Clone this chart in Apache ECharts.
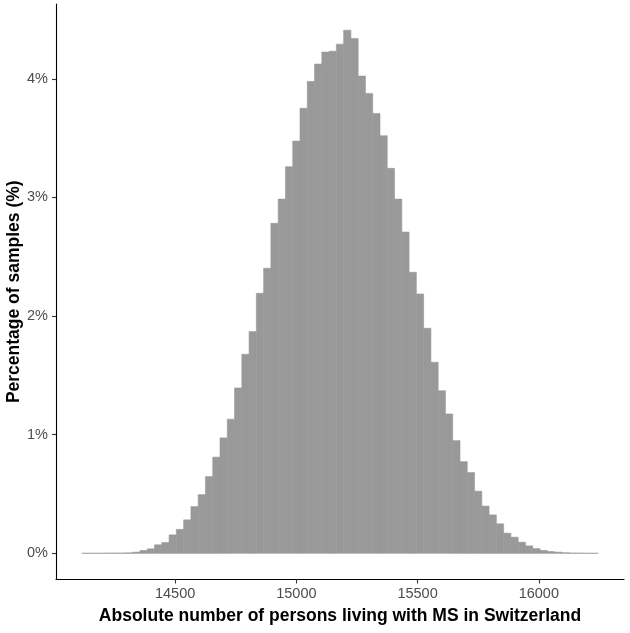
<!DOCTYPE html>
<html>
<head>
<meta charset="utf-8">
<script src="https://cdn.jsdelivr.net/npm/echarts@6/dist/echarts.min.js"></script>
<style>
html,body{margin:0;padding:0;background:#fff;}
#chart{width:630px;height:633px;}
</style>
</head>
<body>
<div id="chart"></div>
<script>
// Histogram bins (bin width 30), centres of each bin
const binCenters = [
  14130,14160,14190,14220,14250,14280,14310,14340,14370,14400,
  14430,14460,14490,14520,14550,14580,14610,14640,14670,14700,
  14730,14760,14790,14820,14850,14880,14910,14940,14970,15000,
  15030,15060,15090,15120,15150,15180,15210,15240,15270,15300,
  15330,15360,15390,15420,15450,15480,15510,15540,15570,15600,
  15630,15660,15690,15720,15750,15780,15810,15840,15870,15900,
  15930,15960,15990,16020,16050,16080,16110,16140,16170,16200,
  16230
];
const binWidth = 30;
// Percentage of samples in each bin
const percentages = [
  0.0005,0.001,0.001,0.002,0.002,0.003,0.004,0.010,0.024,0.038,
  0.072,0.091,0.156,0.202,0.282,0.394,0.495,0.647,0.811,0.973,
  1.131,1.394,1.678,1.869,2.192,2.403,2.782,2.986,3.259,3.475,
  3.751,3.978,4.124,4.225,4.233,4.292,4.410,4.340,4.023,3.877,
  3.708,3.520,3.245,2.986,2.708,2.369,2.186,1.897,1.611,1.371,
  1.175,0.950,0.773,0.681,0.524,0.398,0.324,0.249,0.170,0.136,
  0.094,0.063,0.040,0.024,0.015,0.010,0.005,0.003,0.002,0.001,
  0.001
];
const xTicks = [14500, 15000, 15500, 16000];
const yTicks = [0, 1, 2, 3, 4];

const data = binCenters.map((c, i) => [c - binWidth / 2, c + binWidth / 2, percentages[i]]);

const FONT = "'Liberation Sans', Arial, Helvetica, sans-serif";
const chart = echarts.init(document.getElementById('chart'), null, {renderer: 'canvas'});
chart.setOption({
  animation: false,
  backgroundColor: '#ffffff',
  grid: {left: 56, right: 6, top: 4, bottom: 53.5, containLabel: false, outerBoundsMode: 'none'},
  xAxis: {
    type: 'value',
    min: 14008.5,
    max: 16351.5,
    name: 'Absolute number of persons living with MS in Switzerland',
    nameLocation: 'middle',
    nameGap: 28,
    nameMoveOverlap: false,
    nameTextStyle: {fontFamily: FONT, fontSize: 17.5, fontWeight: 'bold', color: '#000'},
    axisLine: {show: true, onZero: false, lineStyle: {color: '#000', width: 1.1}},
    axisTick: {show: true, length: 4, customValues: xTicks, lineStyle: {color: '#333', width: 1.1}},
    axisLabel: {customValues: xTicks, margin: 7, fontFamily: FONT, fontSize: 14.5, color: '#4d4d4d',
      formatter: v => String(v)},
    splitLine: {show: false}
  },
  yAxis: {
    type: 'value',
    min: -0.2205,
    max: 4.6305,
    name: 'Percentage of samples (%)',
    nameLocation: 'middle',
    nameGap: 33,
    nameMoveOverlap: false,
    nameTextStyle: {fontFamily: FONT, fontSize: 17.5, fontWeight: 'bold', color: '#000'},
    axisLine: {show: true, onZero: false, lineStyle: {color: '#000', width: 1.1}},
    axisTick: {show: true, length: 4, customValues: yTicks, lineStyle: {color: '#333', width: 1.1}},
    axisLabel: {customValues: yTicks, margin: 8, fontFamily: FONT, fontSize: 14.5, color: '#4d4d4d',
      formatter: v => v + '%'},
    splitLine: {show: false}
  },
  series: [{
    type: 'custom',
    data: data,
    encode: {x: [0, 1], y: 2},
    renderItem: function (params, api) {
      const p0 = api.coord([api.value(0), api.value(2)]);
      const p1 = api.coord([api.value(1), 0]);
      return {
        type: 'rect',
        shape: {x: p0[0], y: p0[1], width: p1[0] - p0[0], height: p1[1] - p0[1]},
        style: {fill: '#999999', stroke: '#999999', lineWidth: 0.6}
      };
    }
  }]
});
</script>
</body>
</html>
